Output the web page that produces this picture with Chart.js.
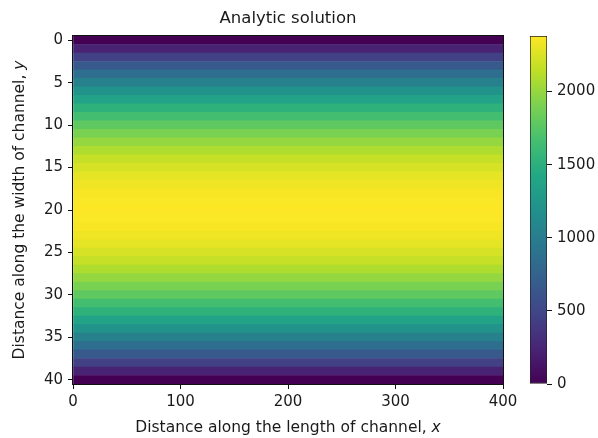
<!DOCTYPE html>
<html>
<head>
<meta charset="utf-8">
<script src="https://cdn.jsdelivr.net/npm/chart.js@4.4.0/dist/chart.umd.min.js"></script>
<style>
    html, body { margin: 0; padding: 0; background: #fff; }
    #wrap { position: relative; width: 598px; height: 438px; }
    #heat { position: absolute; left: 0; top: 0; }
    #cbar { position: absolute; left: 503px; top: 0; }
</style>
</head>
<body>
<div id="wrap">
    <canvas id="heat" width="598" height="438"></canvas>
    <canvas id="cbar" width="95" height="438"></canvas>
</div>
<script>
// rows across the channel (y), top to bottom
const ROWS = [0, 1, 2, 3, 4, 5, 6, 7, 8, 9, 10, 11, 12, 13, 14, 15, 16, 17, 18, 19, 20,
    21, 22, 23, 24, 25, 26, 27, 28, 29, 30, 31, 32, 33, 34, 35, 36, 37, 38, 39, 40]
// value of each row (constant along x)
const VALUES = [0, 230, 450, 660, 860, 1040, 1210, 1370, 1520, 1660, 1790, 1900, 2000, 2090, 2170, 2230, 2290, 2330, 2360, 2370, 2380,
    2370, 2360, 2330, 2290, 2230, 2170, 2090, 2000, 1900, 1790, 1660, 1520, 1370, 1210, 1040, 860, 660, 450, 230, 0]
// length of the channel (x)
const X_RANGE = [0, 400]
const X_TICK_STEP = 100
const Y_TICK_EVERY = 5
const CBAR_TICKS = [0, 500, 1000, 1500, 2000]

const TITLE = 'Analytic solution'
const X_LABEL = ['Distance along the length of channel, ', 'x']
const Y_LABEL = ['Distance along the width of channel, ', 'y']

const VMIN = Math.min(...VALUES)
const VMAX = Math.max(...VALUES)

const FONT = 'DejaVu Sans'
const TEXT = '#1a1a1a'

// viridis anchor colours, t = 0, .1, ... 1
const VIRIDIS = ['#440154', '#482475', '#414487', '#355f8d', '#2a788e', '#21918c',
    '#22a884', '#44bf70', '#7ad151', '#bddf26', '#fde725']

function hexToRgb(h) {
    return [parseInt(h.slice(1, 3), 16), parseInt(h.slice(3, 5), 16), parseInt(h.slice(5, 7), 16)]
}
function viridis(t) {
    t = Math.max(0, Math.min(1, t))
    const p = t * (VIRIDIS.length - 1)
    const i = Math.min(Math.floor(p), VIRIDIS.length - 2)
    const f = p - i
    const a = hexToRgb(VIRIDIS[i])
    const b = hexToRgb(VIRIDIS[i + 1])
    const c = a.map(function (v, k) { return Math.round(v + (b[k] - v) * f) })
    return 'rgb(' + c.join(',') + ')'
}

// text with an italic last part (like matplotlib mathtext)
function drawLabel(ctx, parts, x, y, size, rotate) {
    ctx.save()
    ctx.translate(x, y)
    if (rotate) ctx.rotate(-Math.PI / 2)
    ctx.fillStyle = TEXT
    ctx.textBaseline = 'middle'
    ctx.textAlign = 'left'
    const normal = size + 'px "' + FONT + '"'
    const italic = 'oblique ' + size + 'px "' + FONT + '"'
    ctx.font = normal
    const w1 = ctx.measureText(parts[0]).width
    ctx.font = italic
    const w2 = ctx.measureText(parts[1]).width
    const x0 = -(w1 + w2) / 2
    ctx.font = normal
    ctx.fillText(parts[0], x0, 0)
    ctx.font = italic
    ctx.fillText(parts[1], x0 + w1, 0)
    ctx.restore()
}

const framePlugin = {
    id: 'frame',
    afterDraw: function (chart) {
        const ctx = chart.ctx
        const a = chart.chartArea
        ctx.save()
        ctx.strokeStyle = '#111'
        ctx.lineWidth = 1
        ctx.strokeRect(a.left - 0.5, a.top - 0.5, a.right - a.left + 1, a.bottom - a.top + 1)
        ctx.restore()

        const cx = (a.left + a.right) / 2
        ctx.save()
        ctx.fillStyle = TEXT
        ctx.font = '16.5px "' + FONT + '"'
        ctx.textAlign = 'center'
        ctx.textBaseline = 'middle'
        ctx.fillText(TITLE, cx, 19)
        ctx.restore()

        drawLabel(ctx, X_LABEL, cx, 428, 15.5, false)
        drawLabel(ctx, Y_LABEL, 20, (a.top + a.bottom) / 2, 15.5, true)
    }
}

const tickFont = { family: FONT, size: 15 }

new Chart(document.getElementById('heat'), {
    type: 'bar',
    data: {
        labels: ROWS,
        datasets: [
            {
                data: ROWS.map(function () { return X_RANGE.slice() }),
                backgroundColor: VALUES.map(function (v) { return viridis((v - VMIN) / (VMAX - VMIN)) }),
                borderWidth: 0,
                barPercentage: 1,
                categoryPercentage: 1
            }
        ]
    },
    options: {
        indexAxis: 'y',
        responsive: false,
        animation: false,
        events: [],
        layout: { padding: { top: 36, right: 95, bottom: 0, left: 0 } },
        plugins: {
            legend: { display: false },
            tooltip: { enabled: false },
            title: { display: false }
        },
        scales: {
            x: {
                type: 'linear',
                min: X_RANGE[0],
                max: X_RANGE[1],
                ticks: { stepSize: X_TICK_STEP, padding: 4, color: TEXT, font: tickFont, maxRotation: 0 },
                grid: { drawOnChartArea: false, tickLength: 5, tickColor: '#111' },
                border: { display: false },
                afterFit: function (s) { s.height = 54 }
            },
            y: {
                ticks: {
                    autoSkip: false,
                    padding: 5,
                    color: TEXT,
                    font: tickFont,
                    callback: function (v, i) { return i % Y_TICK_EVERY === 0 ? String(ROWS[i]) : null }
                },
                grid: { offset: false, drawOnChartArea: false, tickLength: 5, tickColor: '#111' },
                border: { display: false },
                afterFit: function (s) { s.width = 73 }
            }
        }
    },
    plugins: [framePlugin]
});

// colorbar
new Chart(document.getElementById('cbar'), {
    type: 'bar',
    data: {
        labels: [''],
        datasets: [
            {
                data: [[VMIN, VMAX]],
                backgroundColor: function (c) {
                    const area = c.chart.chartArea
                    if (!area) return VIRIDIS[0]
                    const g = c.chart.ctx.createLinearGradient(0, area.bottom, 0, area.top)
                    VIRIDIS.forEach(function (col, k) { g.addColorStop(k / (VIRIDIS.length - 1), col) })
                    return g
                },
                borderColor: '#222',
                borderWidth: 1,
                borderSkipped: false,
                barPercentage: 1,
                categoryPercentage: 1
            }
        ]
    },
    options: {
        responsive: false,
        animation: false,
        events: [],
        layout: { padding: { top: 36, right: 0, bottom: 54, left: 27 } },
        plugins: {
            legend: { display: false },
            tooltip: { enabled: false }
        },
        scales: {
            x: { display: false },
            y: {
                position: 'right',
                min: VMIN,
                max: VMAX,
                afterBuildTicks: function (s) {
                    s.ticks = CBAR_TICKS.map(function (v) { return { value: v } })
                },
                ticks: {
                    autoSkip: false,
                    padding: 5,
                    color: TEXT,
                    font: tickFont,
                    callback: function (v) { return String(v) }
                },
                grid: { drawOnChartArea: false, tickLength: 5, tickColor: '#111' },
                border: { display: false },
                afterFit: function (s) { s.width = 51 }
            }
        }
    }
});
</script>
</body>
</html>
